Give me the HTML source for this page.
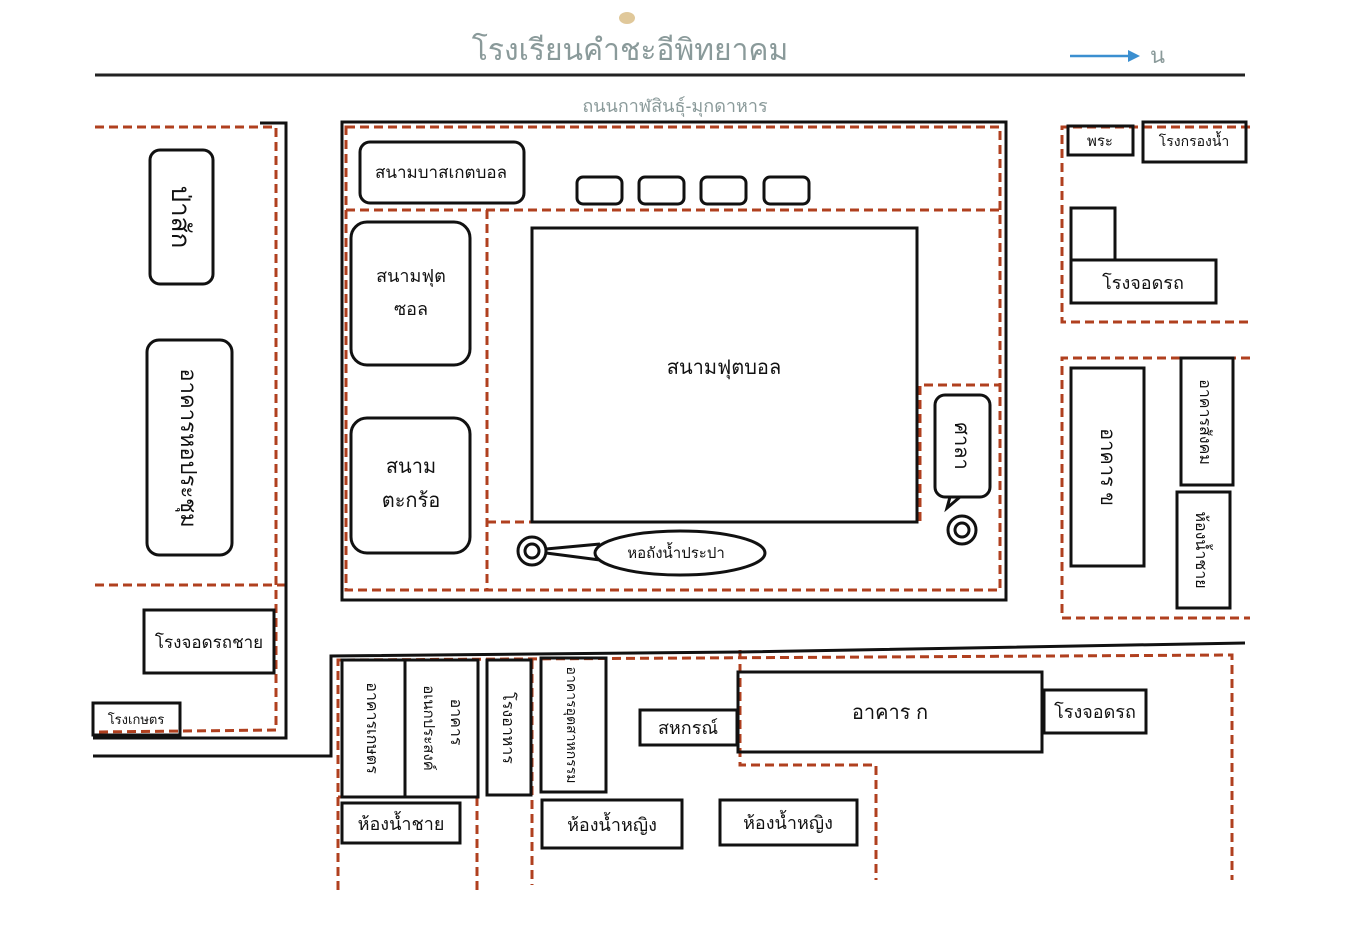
<!DOCTYPE html>
<html><head><meta charset="utf-8"><style>
html,body{margin:0;padding:0;background:#fff;}
svg{display:block;}
text{font-family:"Liberation Sans","DejaVu Sans",sans-serif;fill:#111;}
</style></head><body>
<svg width="1345" height="926" viewBox="0 0 1345 926" xmlns="http://www.w3.org/2000/svg">
<rect width="1345" height="926" fill="#fff"/>
<ellipse cx="627" cy="18" rx="8" ry="6" fill="#e0c89a"/>
<text x="630" y="60" font-size="30" text-anchor="middle" style="fill:#8a9a9a">โรงเรียนคำชะอีพิทยาคม</text>
<line x1="1070" y1="56" x2="1132" y2="56" stroke="#3b8fd0" stroke-width="2.5"/>
<polygon points="1140,56 1128,50 1128,62" fill="#3b8fd0"/>
<text x="1150" y="63" font-size="22" style="fill:#8a9a9a">น</text>
<line x1="95" y1="75" x2="1245" y2="75" stroke="#222" stroke-width="3"/>
<text x="675" y="112" font-size="18" text-anchor="middle" style="fill:#8a9a9a">ถนนกาฬสินธุ์-มุกดาหาร</text>

<g fill="none" stroke="#b0401f" stroke-width="3" stroke-dasharray="9,5">
<polyline points="95,127 276,127 276,730 95,732"/>
<line x1="95" y1="585" x2="285" y2="585"/>
<rect x="346" y="127" width="654" height="463"/>
<line x1="346" y1="210" x2="1000" y2="210"/>
<polyline points="487,210 487,590"/>
<polyline points="487,522 920,522 920,385 1000,385"/>
<polyline points="1250,127 1062,127 1062,322 1250,322"/>
<polyline points="1250,358 1062,358 1062,618 1250,618"/>
<polyline points="338,890 338,660 1232,655 1232,880"/>
<line x1="405" y1="660" x2="405" y2="797"/>
<line x1="477" y1="797" x2="477" y2="890"/>
<line x1="532" y1="660" x2="532" y2="885"/>
<polyline points="740,650 740,765 876,765 876,880"/>
<line x1="338" y1="797" x2="477" y2="797"/>
</g>

<g fill="none" stroke="#111" stroke-width="3">
<polyline points="260,123 286,123 286,738 93,738"/>
<polyline points="93,756 331,756 331,656 740,652 1245,643"/>
<rect x="342" y="122" width="664" height="478"/>
<rect x="532" y="228" width="385" height="294"/>
<rect x="150" y="150" width="63" height="134" rx="10"/>
<rect x="147" y="340" width="85" height="215" rx="12"/>
<rect x="144" y="610" width="130" height="63"/>
<rect x="93" y="703" width="87" height="32"/>
<rect x="360" y="142" width="164" height="61" rx="10"/>
<rect x="577" y="177" width="45" height="27" rx="6"/>
<rect x="639" y="177" width="45" height="27" rx="6"/>
<rect x="701" y="177" width="45" height="27" rx="6"/>
<rect x="764" y="177" width="45" height="27" rx="6"/>
<rect x="351" y="222" width="119" height="143" rx="16"/>
<rect x="351" y="418" width="119" height="135" rx="16"/>
<rect x="935" y="395" width="55" height="102" rx="10"/>
<polyline points="950,497 947,508 960,497"/>
<circle cx="962" cy="530" r="14"/><circle cx="962" cy="530" r="7"/>
<circle cx="532" cy="551" r="14"/><circle cx="532" cy="551" r="7"/>
<polyline points="546,549 600,544"/><polyline points="546,553 600,560"/>
<ellipse cx="680" cy="553" rx="85" ry="22" fill="#fff"/>
<rect x="1068" y="126" width="65" height="29"/>
<rect x="1143" y="122" width="103" height="40"/>
<rect x="1071" y="208" width="44" height="52"/>
<rect x="1071" y="260" width="145" height="43"/>
<rect x="1071" y="368" width="73" height="198"/>
<rect x="1181" y="358" width="52" height="127"/>
<rect x="1177" y="492" width="53" height="116"/>
<rect x="342" y="660" width="63" height="137"/>
<rect x="405" y="660" width="73" height="137"/>
<rect x="487" y="660" width="44" height="135"/>
<rect x="541" y="658" width="65" height="134"/>
<rect x="342" y="803" width="118" height="40"/>
<rect x="542" y="800" width="140" height="48"/>
<rect x="720" y="800" width="137" height="45"/>
<rect x="640" y="710" width="97" height="35"/>
<rect x="738" y="672" width="304" height="80"/>
<rect x="1044" y="690" width="102" height="43"/>
</g>

<g font-size="18">
<text x="441" y="178" text-anchor="middle" font-size="17">สนามบาสเกตบอล</text>
<text x="411" y="282" text-anchor="middle">สนามฟุต</text>
<text x="411" y="315" text-anchor="middle">ซอล</text>
<text x="411" y="473" text-anchor="middle" font-size="20">สนาม</text>
<text x="411" y="507" text-anchor="middle" font-size="20">ตะกร้อ</text>
<text x="724" y="374" text-anchor="middle" font-size="20">สนามฟุตบอล</text>
<text x="676" y="558" text-anchor="middle" font-size="15">หอถังน้ำประปา</text>
<text x="209" y="648" text-anchor="middle" font-size="17">โรงจอดรถชาย</text>
<text x="136" y="724" text-anchor="middle" font-size="13">โรงเกษตร</text>
<text x="1100" y="146" text-anchor="middle" font-size="15">พระ</text>
<text x="1194" y="146" text-anchor="middle" font-size="14">โรงกรองน้ำ</text>
<text x="1143" y="289" text-anchor="middle">โรงจอดรถ</text>
<text x="401" y="830" text-anchor="middle">ห้องน้ำชาย</text>
<text x="612" y="831" text-anchor="middle">ห้องน้ำหญิง</text>
<text x="788" y="829" text-anchor="middle">ห้องน้ำหญิง</text>
<text x="688" y="734" text-anchor="middle">สหกรณ์</text>
<text x="890" y="719" text-anchor="middle" font-size="20">อาคาร ก</text>
<text x="1095" y="718" text-anchor="middle">โรงจอดรถ</text>
</g>
<g font-size="20">
<text transform="translate(172,217) rotate(90)" text-anchor="middle" font-size="26">ป่าสัก</text>
<text transform="translate(181,448) rotate(90)" text-anchor="middle" font-size="22">อาคารหอประชุม</text>
<text transform="translate(955,446) rotate(90)" text-anchor="middle">ศาลา</text>
<text transform="translate(1101,467) rotate(90)" text-anchor="middle">อาคาร ข</text>
<text transform="translate(1200,422) rotate(90)" text-anchor="middle" font-size="16">อาคารสังคม</text>
<text transform="translate(1196,550) rotate(90)" text-anchor="middle" font-size="16">ห้องน้ำชาย</text>
<text transform="translate(367,728) rotate(90)" text-anchor="middle" font-size="16">อาคารเกษตร</text>
<text transform="translate(424,728) rotate(90)" text-anchor="middle" font-size="15">อเนกประสงค์</text>
<text transform="translate(451,722) rotate(90)" text-anchor="middle" font-size="16">อาคาร</text>
<text transform="translate(503,728) rotate(90)" text-anchor="middle" font-size="16">โรงอาหาร</text>
<text transform="translate(567,725) rotate(90)" text-anchor="middle" font-size="14">อาคารอุตสาหกรรม</text>
</g>
</svg>
</body></html>
